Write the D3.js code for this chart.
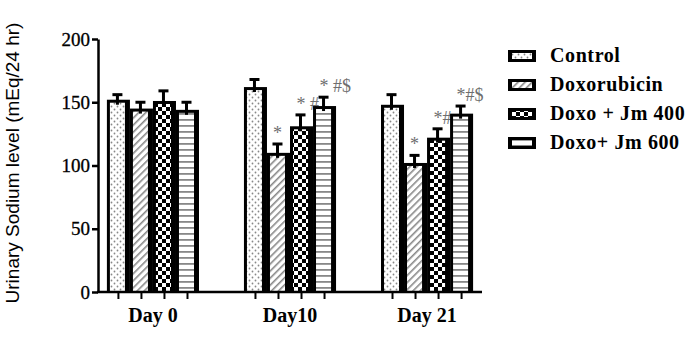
<!DOCTYPE html>
<html>
<head>
<meta charset="utf-8">
<script src="https://cdn.jsdelivr.net/npm/d3@7"></script>
<style>
  body { margin: 0; background: #fff; }
  svg { display: block; }
</style>
</head>
<body>
<script>
const Width = 692;
const Height = 338;

// data
const days = ["Day 0", "Day10", "Day 21"];
const groups = ["Control", "Doxorubicin", "Doxo + Jm 400", "Doxo+ Jm 600"];
const control = [152, 162, 148];
const doxorubicin = [145, 110, 102];
const jm400 = [151, 131, 122];
const jm600 = [144, 147, 141];
const controlErr = [4, 6, 8];
const doxorubicinErr = [5, 7, 6];
const jm400Err = [8, 9, 7];
const jm600Err = [6, 7, 6];
const controlMark = ["", "", ""];
const doxorubicinMark = ["", "*", "*"];
const jm400Mark = ["", "* #", "*#"];
const jm600Mark = ["", "* #$", "*#$"];
const yTicks = [0, 50, 100, 150, 200];

const values = [control, doxorubicin, jm400, jm600];
const errs = [controlErr, doxorubicinErr, jm400Err, jm600Err];
const marks = [controlMark, doxorubicinMark, jm400Mark, jm600Mark];
const patterns = ["dots", "diag", "check", "hlines"];

const margin = { left: 98, right: 210, top: 39, bottom: 46 };
const innerWidth = Width - margin.left - margin.right;
const innerHeight = Height - margin.top - margin.bottom;

const svg = d3.select('body')
  .append('svg')
    .attr('width', Width)
    .attr('height', Height);

// fill patterns
const defs = svg.append('defs');

const pDots = defs.append('pattern').attr('id', 'dots')
  .attr('patternUnits', 'userSpaceOnUse').attr('width', 6).attr('height', 6);
pDots.append('rect').attr('width', 6).attr('height', 6).attr('fill', '#fff');
pDots.append('circle').attr('cx', 1.5).attr('cy', 1.5).attr('r', 0.9).attr('fill', '#888');
pDots.append('circle').attr('cx', 4.5).attr('cy', 4.5).attr('r', 0.9).attr('fill', '#888');

const pDiag = defs.append('pattern').attr('id', 'diag')
  .attr('patternUnits', 'userSpaceOnUse').attr('width', 5).attr('height', 5)
  .attr('patternTransform', 'rotate(45)');
pDiag.append('rect').attr('width', 5).attr('height', 5).attr('fill', '#fff');
pDiag.append('line').attr('x1', 0).attr('y1', 0).attr('x2', 0).attr('y2', 5)
  .attr('stroke', '#888').attr('stroke-width', 3.2);

const pCheck = defs.append('pattern').attr('id', 'check')
  .attr('patternUnits', 'userSpaceOnUse').attr('width', 8).attr('height', 8);
pCheck.append('rect').attr('width', 8).attr('height', 8).attr('fill', '#fff');
pCheck.append('rect').attr('width', 4).attr('height', 4).attr('fill', '#000');
pCheck.append('rect').attr('x', 4).attr('y', 4).attr('width', 4).attr('height', 4).attr('fill', '#000');

const pH = defs.append('pattern').attr('id', 'hlines')
  .attr('patternUnits', 'userSpaceOnUse').attr('width', 6).attr('height', 6);
pH.append('rect').attr('width', 6).attr('height', 6).attr('fill', '#fff');
pH.append('rect').attr('y', 2).attr('width', 6).attr('height', 1.8).attr('fill', '#888');

const g = svg.append('g')
  .attr('transform', `translate(${margin.left}, ${margin.top})`);

// scales
const x0 = d3.scaleBand()
  .domain(days)
  .range([0, innerWidth])
  .paddingInner(0.328)
  .paddingOuter(0.065);

const x1 = d3.scaleBand()
  .domain(groups)
  .range([0, x0.bandwidth()]);

const yScale = d3.scaleLinear()
  .domain([0, 200])
  .range([innerHeight, 0]);

// flatten
const bars = [];
days.forEach((day, i) => {
  groups.forEach((grp, j) => {
    bars.push({ day, grp, j, value: values[j][i], err: errs[j][i], mark: marks[j][i] });
  });
});

const bx = d => x0(d.day) + x1(d.grp);
const bw = x1.bandwidth();

// bars: black body with patterned inner part
const barG = g.selectAll('.bar')
  .data(bars)
  .join('g')
    .attr('class', 'bar');

barG.append('rect')
  .attr('x', d => bx(d))
  .attr('y', d => yScale(d.value))
  .attr('width', bw)
  .attr('height', d => innerHeight - yScale(d.value))
  .attr('fill', '#000');

barG.append('rect')
  .attr('x', d => bx(d) + 3)
  .attr('y', d => yScale(d.value) + 3)
  .attr('width', bw - 8)
  .attr('height', d => innerHeight - yScale(d.value) - 3)
  .attr('fill', d => `url(#${patterns[d.j]})`);

// error bars (upper only)
barG.append('line')
  .attr('x1', d => bx(d) + bw / 2 - 1)
  .attr('x2', d => bx(d) + bw / 2 - 1)
  .attr('y1', d => yScale(d.value) + 5)
  .attr('y2', d => yScale(d.value + d.err))
  .attr('stroke', '#000')
  .attr('stroke-width', 3);

barG.append('line')
  .attr('x1', d => bx(d) + bw / 2 - 6)
  .attr('x2', d => bx(d) + bw / 2 + 4)
  .attr('y1', d => yScale(d.value + d.err))
  .attr('y2', d => yScale(d.value + d.err))
  .attr('stroke', '#000')
  .attr('stroke-width', 3);

// significance marks
barG.filter(d => d.mark !== '')
  .append('text')
  .attr('x', d => d.mark.length > 1 ? bx(d) + bw / 2 - 5 : bx(d) + bw / 2 - 1)
  .attr('y', d => yScale(d.value + d.err) - 5)
  .attr('text-anchor', d => d.mark.length > 1 ? 'start' : 'middle')
  .style('font-family', '"Liberation Serif", "Times New Roman", serif')
  .style('font-size', '18px')
  .attr('fill', '#6e6e6e')
  .text(d => d.mark);

// y axis
const yAxis = d3.axisLeft(yScale)
  .tickValues(yTicks)
  .tickSize(6)
  .tickSizeOuter(0)
  .tickPadding(2);

const yAxisG = g.append('g').call(yAxis);
yAxisG.select('.domain').attr('stroke-width', 2.5);
yAxisG.selectAll('.tick line').attr('stroke-width', 2.5);
yAxisG.selectAll('.tick text')
  .style('font-family', '"Liberation Serif", "Times New Roman", serif')
  .style('font-size', '19px')
  .attr('fill', '#000')
  .attr('stroke', '#000')
  .attr('stroke-width', 0.3);

// x axis line and bar ticks
g.append('line')
  .attr('x1', -1)
  .attr('x2', innerWidth)
  .attr('y1', innerHeight)
  .attr('y2', innerHeight)
  .attr('stroke', '#000')
  .attr('stroke-width', 2.5);

g.selectAll('.xtick')
  .data(bars)
  .join('line')
    .attr('class', 'xtick')
    .attr('x1', d => bx(d) + bw / 2)
    .attr('x2', d => bx(d) + bw / 2)
    .attr('y1', innerHeight)
    .attr('y2', innerHeight + 7)
    .attr('stroke', '#000')
    .attr('stroke-width', 2);

g.selectAll('.xlabel')
  .data(days)
  .join('text')
    .attr('class', 'xlabel')
    .attr('x', d => x0(d) + x0.bandwidth() / 2)
    .attr('y', innerHeight + 30)
    .attr('text-anchor', 'middle')
    .style('font-family', '"Liberation Serif", "Times New Roman", serif')
    .style('font-weight', 'bold')
    .style('font-size', '20px')
    .text(d => d);

// y axis title
svg.append('text')
  .attr('transform', `translate(19, 163) rotate(-90)`)
  .attr('text-anchor', 'middle')
  .style('font-family', '"Liberation Sans", Arial, sans-serif')
  .style('font-size', '19px')
  .text('Urinary Sodium level (mEq/24 hr)');

// legend
const legend = svg.append('g')
  .attr('transform', 'translate(508, 0)')
  .selectAll('g')
  .data(groups)
  .join('g')
    .attr('transform', (d, i) => `translate(0, ${62 + i * 29})`);

legend.append('rect')
  .attr('y', -12)
  .attr('width', 28)
  .attr('height', 12)
  .attr('fill', '#000');

legend.append('rect')
  .attr('x', 4)
  .attr('y', -9)
  .attr('width', 20)
  .attr('height', 6)
  .attr('fill', (d, i) => `url(#${patterns[i]})`);

legend.append('text')
  .attr('x', 42)
  .attr('y', 0)
  .style('font-family', '"Liberation Serif", "Times New Roman", serif')
  .style('font-weight', 'bold')
  .style('font-size', '20px')
  .style('letter-spacing', '0.6px')
  .text(d => d);
</script>
</body>
</html>
